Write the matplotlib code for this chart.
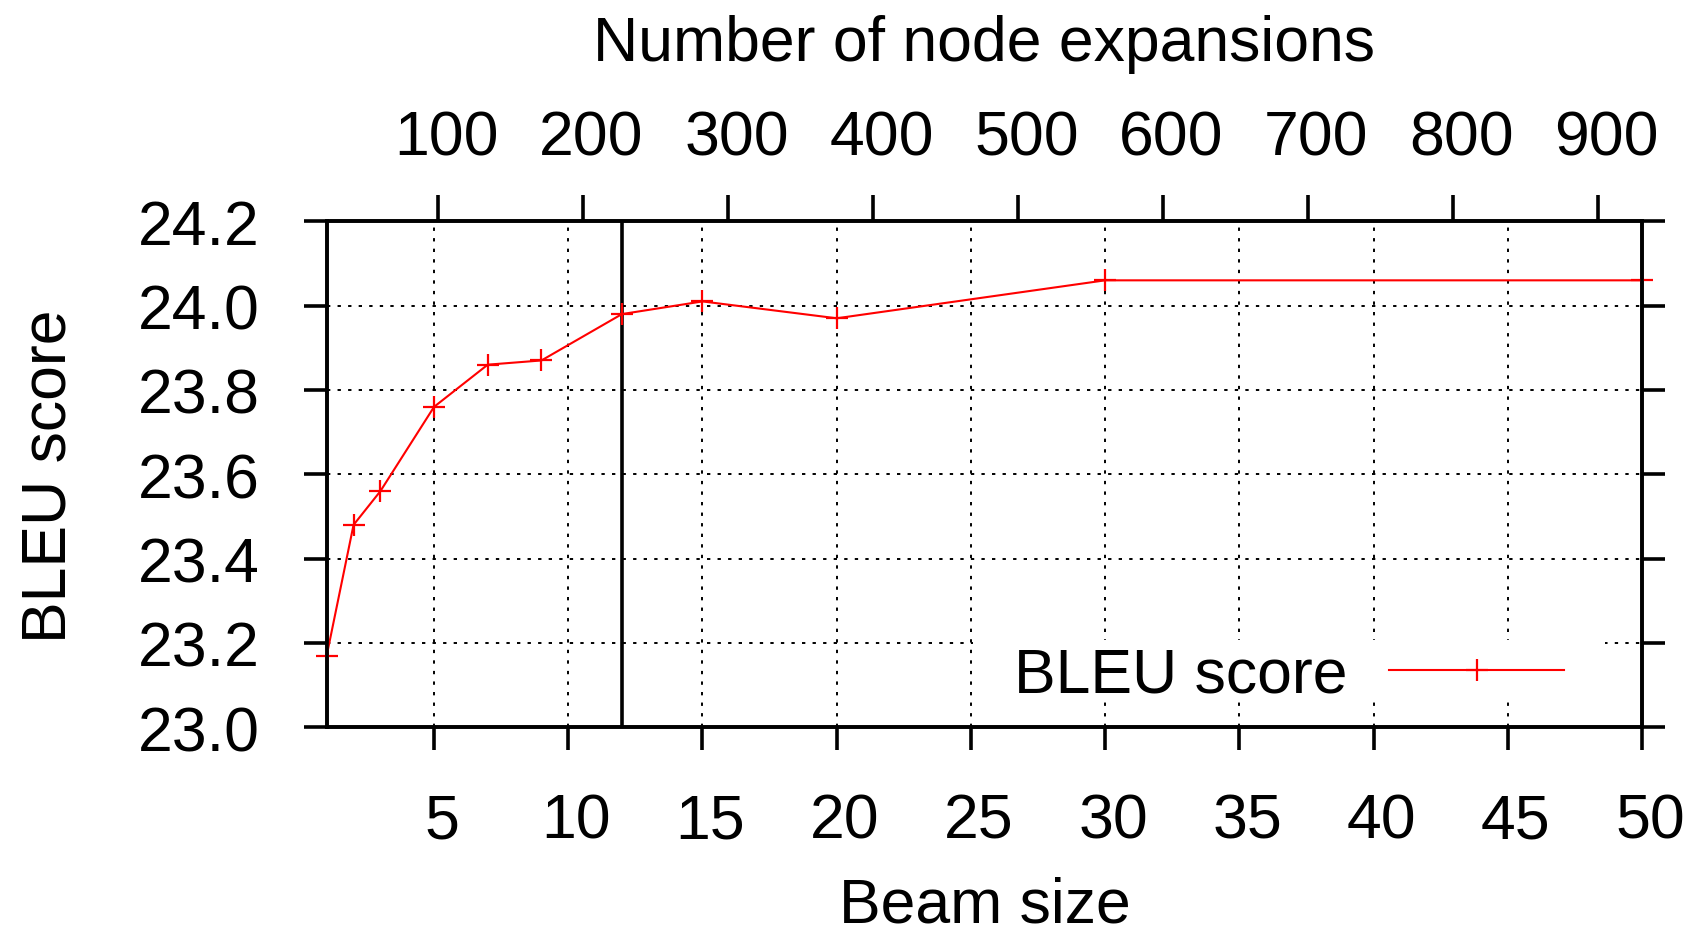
import matplotlib
matplotlib.use('Agg')
import matplotlib.pyplot as plt
from matplotlib.patches import Rectangle
from matplotlib.transforms import ScaledTranslation

# ---- data ----
beam_sizes = [1, 2, 3, 5, 7, 9, 12, 15, 20, 30, 50]
bleu_scores = [23.17, 23.48, 23.56, 23.76, 23.86, 23.87, 23.98, 24.01, 23.97, 24.06, 24.06]
series_label = "BLEU score"
beam_ticks = [5, 10, 15, 20, 25, 30, 35, 40, 45, 50]
bleu_ticks = [23.0, 23.2, 23.4, 23.6, 23.8, 24.0, 24.2]
expansion_ticks = [100, 200, 300, 400, 500, 600, 700, 800, 900]
chosen_beam = 12
beam_range = (1, 50)
bleu_range = (23.0, 24.2)
expansion_range = (23, 930)

plt.rcParams['font.family'] = ['Liberation Sans', 'DejaVu Sans']
plt.rcParams['font.size'] = 45
plt.rcParams['lines.scale_dashes'] = False

fig = plt.figure(figsize=(16.88, 9.37), dpi=100)
ax = fig.add_axes([0.19354, 0.22273, 0.77921, 0.54002])
ax.set_xlim(*beam_range)
ax.set_ylim(*bleu_range)
ax.set_xticks(beam_ticks)
ax.set_yticks(bleu_ticks)
ax.set_yticklabels([f"{v:.1f}" for v in bleu_ticks])
ax.tick_params(axis='x', direction='out', length=16.5, width=2.6, pad=30,
               bottom=True, top=False)
ax.tick_params(axis='y', direction='out', length=16.5, width=2.6, pad=31.5,
               left=True, right=True)
ax.set_axisbelow(True)
ax.grid(True, color='black', lw=1.4, linestyle=(0, (2.4, 5.2)))
for s in ax.spines.values():
    s.set_linewidth(2.6)
    s.set_zorder(2.6)

ax2 = ax.twiny()
ax2.set_xlim(*expansion_range)
ax2.set_xticks(expansion_ticks)
ax2.tick_params(axis='x', direction='out', length=18.7, width=2.6, pad=20,
                top=True, bottom=False)
for s in ax2.spines.values():
    s.set_linewidth(2.6)

ax.axvline(chosen_beam, color='black', lw=2.6, zorder=2.6)

ax.plot(beam_sizes, bleu_scores, color='red', lw=1.5, marker='+', ms=16.5,
        mew=1.6, clip_on=False, label=series_label, zorder=3)

ax.add_patch(Rectangle((0.4914, 0.052), 0.4805, 0.1206, transform=ax.transAxes,
                       facecolor='white', edgecolor='none', zorder=1))
ax.legend(loc='center left', bbox_to_anchor=(0.5225, 0.1034), frameon=False,
          markerfirst=False, handlelength=2.8, handletextpad=0.67,
          borderpad=0, borderaxespad=0, fontsize=45)

fig.text(0.5832, 0.9352, 'Number of node expansions', ha='center', va='baseline')
fig.text(0.5832, 0.016, 'Beam size', ha='center', va='baseline')
fig.text(0.029, 0.492, 'BLEU score', rotation=90, ha='center', va='center')

fig.canvas.draw()
shift = ScaledTranslation(8 / 100, 0, fig.dpi_scale_trans)
for lab in ax.get_xticklabels() + ax2.get_xticklabels():
    lab.set_transform(lab.get_transform() + shift)

fig.savefig('out.png', dpi=100)
